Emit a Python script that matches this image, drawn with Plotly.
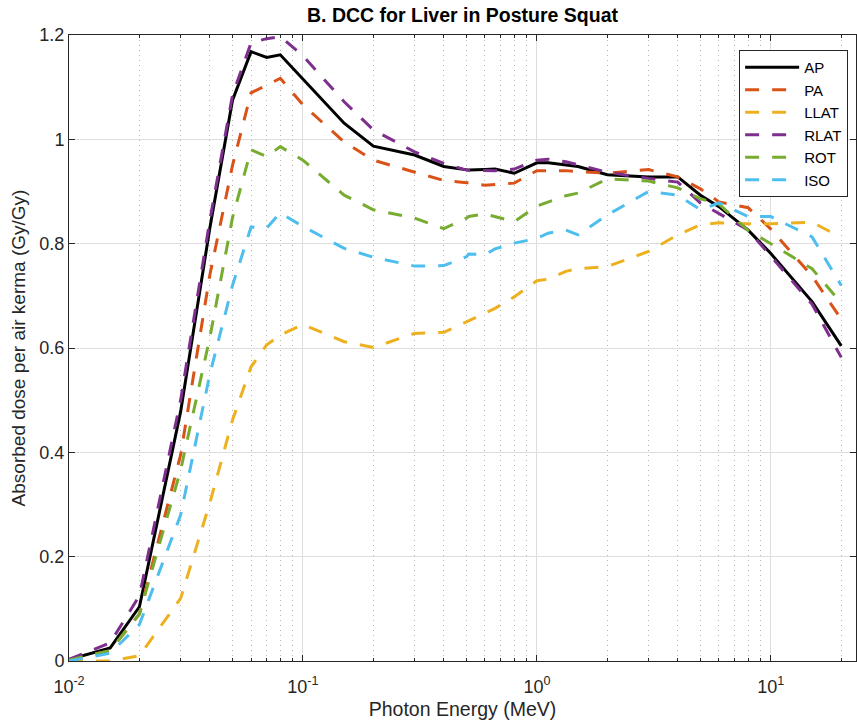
import plotly.graph_objects as go

energy = [0.01, 0.015, 0.02, 0.03, 0.04, 0.05, 0.06, 0.07, 0.08, 0.1, 0.15, 0.2, 0.3, 0.4,
          0.5, 0.511, 0.6, 0.662, 0.8, 1.0, 1.117, 1.33, 1.5, 2, 3, 4, 5, 6, 8, 10, 15, 20]

ap = [0.003, 0.025, 0.104, 0.478, 0.83, 1.075, 1.168, 1.157, 1.162, 1.116, 1.031, 0.987, 0.970, 0.948,
      0.941, 0.941, 0.942, 0.943, 0.935, 0.955, 0.955, 0.951, 0.948, 0.932, 0.928, 0.928, 0.893, 0.871,
      0.826, 0.781, 0.689, 0.604]
pa = [0.002, 0.02, 0.09, 0.395, 0.74, 0.95, 1.089, 1.104, 1.117, 1.066, 0.995, 0.960, 0.938, 0.921,
      0.917, 0.917, 0.912, 0.913, 0.916, 0.940, 0.940, 0.940, 0.938, 0.935, 0.942, 0.928, 0.905, 0.880,
      0.869, 0.828, 0.738, 0.655]
llat = [0.0, 0.0, 0.01, 0.12, 0.303, 0.462, 0.564, 0.606, 0.625, 0.645, 0.612, 0.601, 0.628, 0.630,
        0.650, 0.652, 0.666, 0.676, 0.698, 0.729, 0.732, 0.747, 0.752, 0.756, 0.785, 0.817, 0.836, 0.840,
        0.838, 0.838, 0.841, 0.812]
rlat = [0.003, 0.035, 0.125, 0.50, 0.845, 1.085, 1.185, 1.193, 1.197, 1.160, 1.072, 1.018, 0.976, 0.954,
        0.941, 0.941, 0.940, 0.940, 0.943, 0.960, 0.962, 0.957, 0.951, 0.937, 0.925, 0.918, 0.878, 0.858,
        0.826, 0.776, 0.684, 0.582]
rot = [0.002, 0.02, 0.09, 0.366, 0.62, 0.85, 0.98, 0.967, 0.986, 0.960, 0.893, 0.865, 0.849, 0.829,
       0.849, 0.852, 0.857, 0.852, 0.842, 0.872, 0.880, 0.892, 0.897, 0.924, 0.920, 0.907, 0.886, 0.876,
       0.825, 0.800, 0.752, 0.686]
iso = [0.0, 0.015, 0.07, 0.28, 0.55, 0.72, 0.832, 0.830, 0.859, 0.833, 0.791, 0.774, 0.757, 0.758,
       0.775, 0.780, 0.779, 0.790, 0.801, 0.810, 0.820, 0.826, 0.817, 0.855, 0.900, 0.893, 0.865, 0.878,
       0.852, 0.852, 0.813, 0.720]

series_names = ["AP", "PA", "LLAT", "RLAT", "ROT", "ISO"]
series_values = [ap, pa, llat, rlat, rot, iso]
series_colors = ["#000000", "#D95319", "#EDB120", "#7E2F8E", "#77AC30", "#4DBEEE"]
series_dash = ["solid", "14px,13px", "14px,13px", "14px,13px", "14px,13px", "14px,13px"]

xtick_vals = [0.01, 0.1, 1, 10]
xtick_text = ["10<sup>-2</sup>", "10<sup>-1</sup>", "10<sup>0</sup>", "10<sup>1</sup>"]
minor_vals = [m * d for d in [0.01, 0.1, 1, 10] for m in range(2, 10)]

FONT = "Liberation Sans, Arial, Helvetica, sans-serif"

fig = go.Figure()
for name, vals, col, dash in zip(series_names, series_values, series_colors, series_dash):
    fig.add_trace(go.Scatter(x=energy, y=vals, mode="lines", name=name,
                             line=dict(color=col, width=3, dash=dash)))

fig.update_layout(
    width=857, height=725,
    margin=dict(l=69, r=1, t=35, b=64),
    paper_bgcolor="white", plot_bgcolor="white",
    font=dict(family=FONT, size=18, color="#262626"),
    title=dict(text="<b>B. DCC for Liver in Posture Squat</b>", x=0.5, xref="paper",
               y=1 - 15 / 725, yanchor="middle", yref="container",
               font=dict(family=FONT, size=19.5, color="#000000")),
    legend=dict(x=0.990, y=0.976, xanchor="right", yanchor="top",
                bgcolor="white", bordercolor="#262626", borderwidth=1,
                font=dict(family=FONT, size=15, color="#000000"),
                itemwidth=54, tracegroupgap=0),
    showlegend=True,
)

fig.update_xaxes(
    type="log", range=[-2, 1.364], automargin=False,
    tickmode="array", tickvals=xtick_vals, ticktext=xtick_text,
    ticks="inside", ticklen=6, tickcolor="#262626", ticklabelstandoff=9,
    showline=True, linecolor="#262626", linewidth=1, mirror="ticks",
    showgrid=True, gridcolor="#dedede", gridwidth=1,
    zeroline=False,
    minor=dict(tickmode="array", tickvals=minor_vals, ticks="inside", ticklen=3,
               tickcolor="#262626", showgrid=True, griddash="1px,4px",
               gridcolor="#b4b4b4", gridwidth=1),
    title=dict(text="Photon Energy (MeV)", font=dict(family=FONT, size=19.5, color="#262626"),
               standoff=6),
    tickfont=dict(family=FONT, size=18, color="#262626"),
)
fig.update_yaxes(
    range=[0, 1.2], tick0=0, dtick=0.2, automargin=False,
    ticks="inside", ticklen=6, tickcolor="#262626",
    showline=True, linecolor="#262626", linewidth=1, mirror="ticks",
    showgrid=True, gridcolor="#dedede", gridwidth=1,
    zeroline=False,
    title=dict(text="Absorbed dose per air kerma (Gy/Gy)",
               font=dict(family=FONT, size=19, color="#262626"), standoff=8),
    tickfont=dict(family=FONT, size=18, color="#262626"),
)

fig.write_html("out.html")
